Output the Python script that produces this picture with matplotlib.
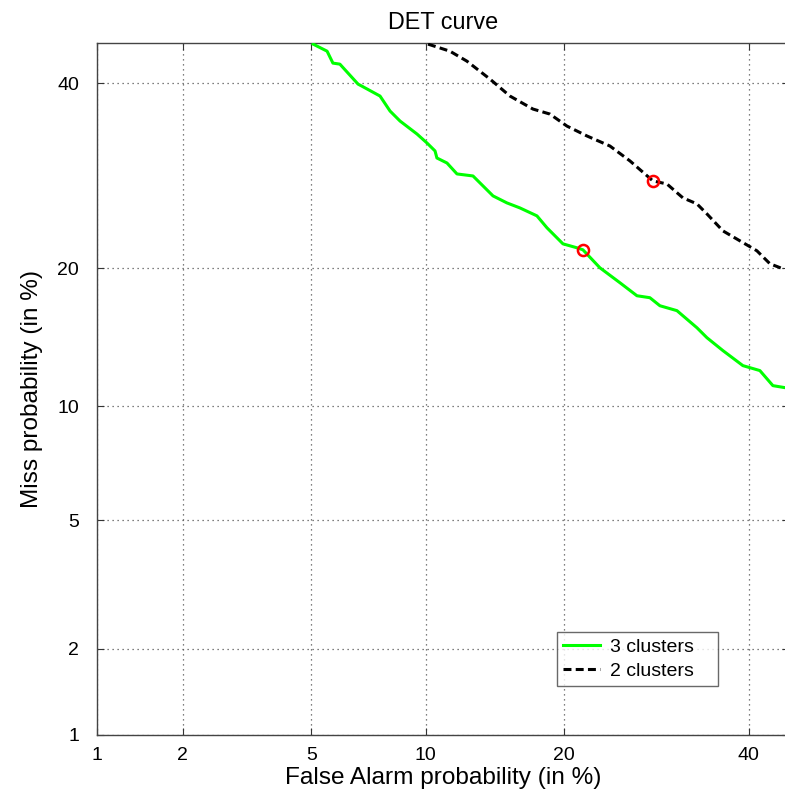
import numpy as np
import matplotlib
matplotlib.use("Agg")
import matplotlib.pyplot as plt
from statistics import NormalDist

plt.rcParams['font.family'] = ['Liberation Sans', 'DejaVu Sans']

# Data (percent)
green_fa = [5.06, 5.54, 5.75, 6.01, 6.73, 6.89, 7.69, 8.16, 8.65, 9.53, 10.08, 10.54, 10.65,
            11.25, 11.87, 12.91, 14.30, 15.32, 16.32, 17.69, 18.53, 19.92, 21.18, 21.74, 23.36,
            25.36, 27.12, 28.50, 29.59, 31.49, 33.78, 34.95, 36.85, 39.27, 41.36, 42.98, 44.48]
green_miss = [44.86, 43.97, 42.48, 42.35, 39.88, 39.63, 38.42, 36.61, 35.42, 33.90, 32.86, 31.95, 31.15,
              30.59, 29.38, 29.16, 27.02, 26.29, 25.77, 24.96, 23.77, 22.22, 21.85, 21.66, 20.02,
              18.71, 17.62, 17.46, 16.81, 16.42, 15.11, 14.38, 13.47, 12.46, 12.14, 11.20, 11.08]
black_fa = [10.14, 11.43, 12.51, 14.08, 15.55, 17.36, 18.78, 20.27, 22.12, 24.35, 26.39, 28.83,
            30.37, 32.17, 33.78, 34.95, 36.85, 38.90, 40.99, 42.61, 44.23]
black_miss = [44.86, 43.97, 42.72, 40.50, 38.42, 36.85, 36.25, 34.83, 33.67, 32.51, 30.82, 28.62,
              28.29, 26.81, 26.19, 25.16, 23.47, 22.51, 21.57, 20.38, 19.93]
green_pt = (21.74, 21.66)
black_pt = (28.83, 28.62)
ticks = [1, 2, 5, 10, 20, 40]
labels = ["3 clusters", "2 clusters"]

_nd = NormalDist()
_ppf = np.vectorize(lambda p: _nd.inv_cdf(min(max(p, 1e-9), 1 - 1e-9)), otypes=[float])
_cdf = np.vectorize(lambda z: _nd.cdf(z), otypes=[float])

def fwd(v):
    return _ppf(np.asarray(v, dtype=float) / 100.0)

def inv(z):
    return _cdf(np.asarray(z, dtype=float)) * 100.0

fig = plt.figure(figsize=(7.85, 7.95), dpi=100)
ax = fig.add_axes([97/785, 60.4/795, 692/785, 691.6/795])
ax.set_xscale('function', functions=(fwd, inv))
ax.set_yscale('function', functions=(fwd, inv))

ax.plot(green_fa, green_miss, color='#00ff00', lw=2.2, label=labels[0], zorder=3)
ax.plot(black_fa, black_miss, color='black', lw=2.2, ls=(0, (2.6, 1.4)), label=labels[1], zorder=3)
ax.plot([green_pt[0]], [green_pt[1]], 'o', mfc='none', mec='red', ms=8, mew=1.8, zorder=4)
ax.plot([black_pt[0]], [black_pt[1]], 'o', mfc='none', mec='red', ms=8, mew=1.8, zorder=4)

ax.set_xlim(1, 45)
ax.set_ylim(1, 45)
ax.set_xticks(ticks)
ax.set_yticks(ticks)
ax.set_xticklabels([str(t) for t in ticks])
ax.set_yticklabels([str(t) for t in ticks])
ax.minorticks_off()
ax.tick_params(direction='in', length=5, top=True, right=True, labelsize=14, color='#333333')
ax.tick_params(axis='y', pad=13)
ax.tick_params(axis='x', pad=9)
ax.grid(True, ls=(0, (1, 3)), color='#555555', lw=0.9)
for s in ax.spines.values():
    s.set_color('#444444')
    s.set_linewidth(1.0)

ax.set_title("DET curve", fontsize=16.8, pad=10)
ax.set_xlabel("False Alarm probability (in %)", fontsize=17.6, labelpad=2)
ax.set_ylabel("Miss probability (in %)", fontsize=17.6, labelpad=10)

W, H = 692.0, 691.6
leg = ax.legend(loc='lower left',
                bbox_to_anchor=((557-97)/W, (734.6-686)/H, (718-557)/W, 54/H),
                mode='expand',
                fontsize=14, frameon=True, fancybox=False, edgecolor='#444444',
                handlelength=1.9, borderpad=0.3, labelspacing=0.35, handletextpad=0.5,
                borderaxespad=0)
leg.get_frame().set_linewidth(1.0)

fig.savefig("out.png", dpi=100)
